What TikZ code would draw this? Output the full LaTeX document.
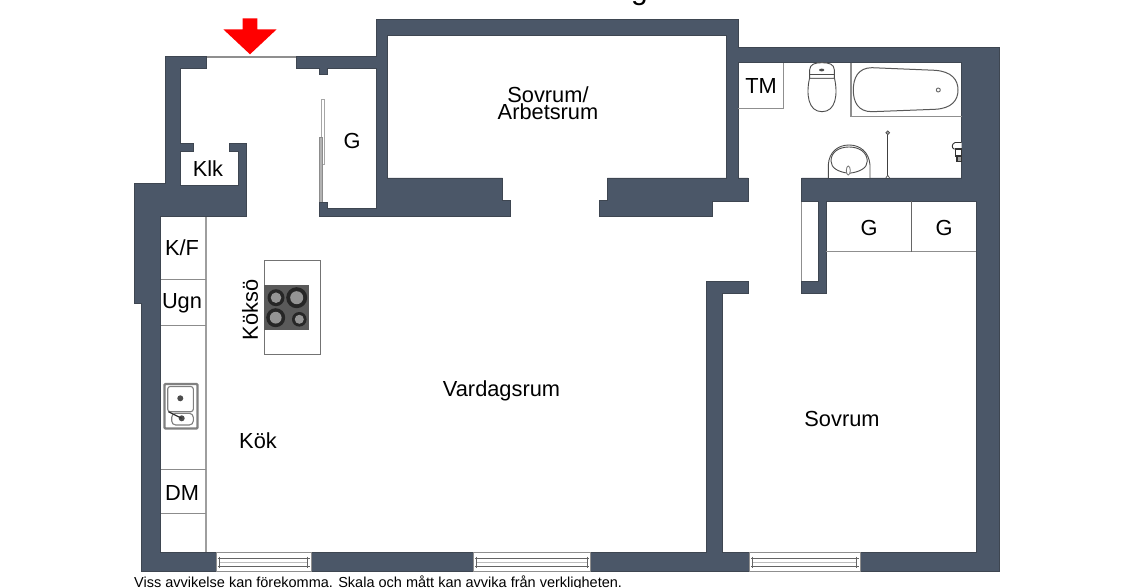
\documentclass[tikz,border=0pt]{standalone}
\usepackage{fontspec}
\setmainfont{Liberation Sans}
\definecolor{wallc}{HTML}{4B5768}
\definecolor{walle}{HTML}{3E4651}
\definecolor{fixg}{HTML}{8F8F8F}
\definecolor{hobc}{HTML}{5A5A5A}
\newcommand{\winfix}[2]{%
  \draw[fixg,line width=1,fill=white] (#1,552.7) rectangle (#2,571.8);
  \draw[fixg!70!black,line width=.9] (#1+1.5,558.5) -- (#2-1.5,558.5) (#1+1.5,566) -- (#2-1.5,566);
  \draw[fixg!60,line width=.6] (#1+4,562.2) -- (#2-4,562.2);
  \draw[fixg!70!black,line width=.7] (#1+3.5,556.5) -- (#1+3.5,568) (#2-3.5,556.5) -- (#2-3.5,568);
}
\newcommand{\burner}[3]{%
  \fill[black!85] (#1,#2) circle (#3);
  \fill[black!42] (#1,#2) circle (#3*.62);
}
\tikzset{
  wall/.style={fill=wallc,draw=walle,line width=.7,line join=miter},
  fixline/.style={draw=fixg,line width=1},
  kitline/.style={draw=black!45,line width=.9},
  sanit/.style={draw=black!70,line width=.9,fill=white},
  lab/.style={font=\fontsize{21.8}{21.8}\selectfont,inner sep=0pt,text=black}
}
\begin{document}
\begin{tikzpicture}[x=1pt,y=-1pt]
\useasboundingbox (0,0) rectangle (1130,588);
\fill[white] (0,0) rectangle (1130,588);
% cropped heading
\node[anchor=base east,inner sep=0pt,font=\fontsize{30}{30}\selectfont,text=black] (heading) at (648,-0.3) {Planlösning};
% fixtures under walls
\draw[fixg,line width=1.4] (206,56.9) -- (296,56.9);
\draw[fixline,line width=1.4] (801.7,201) -- (801.7,281.7);
\draw[black!35,fill=white,line width=.8] (321,99.3) rectangle (324.3,164);
\draw[black!45,fill=black!30,line width=.6] (318.9,137.7) rectangle (322.5,203);
% kitchen units
\draw[draw=black!38,line width=1.8] (206,216.7) -- (206,552.7);
\draw[kitline] (160.7,279.7) -- (206,279.7) (160.7,325) -- (206,325) (160.7,469) -- (206,469) (160.7,513.7) -- (206,513.7);
% walls
\draw[wall] (165.7,56.7) -- (206,56.7) -- (206,68.3) -- (180.7,68.3) -- (180.7,143.3) -- (193.3,143.3) -- (193.3,151) -- (180.7,151) -- (180.7,185.7) -- (238.3,185.7) -- (238.3,151) -- (229.3,151) -- (229.3,143.3) -- (246.7,143.3) -- (246.7,216.7) -- (160.7,216.7) -- (160.7,552.7) -- (216,552.7) -- (216,571.8) -- (141.7,571.8) -- (141.7,303.3) -- (134,303.3) -- (134,183.3) -- (165.7,183.3) -- cycle;
\draw[wall] (296,56.7) -- (376.7,56.7) -- (376.7,19.3) -- (738,19.3) -- (738,47.7) -- (999.3,47.7) -- (999.3,571.8) -- (860,571.8) -- (860,552.7) -- (976,552.7) -- (976,201) -- (826,201) -- (826,293) -- (801.7,293) -- (801.7,281.7) -- (818.7,281.7) -- (818.7,201) -- (801.7,201) -- (801.7,178) -- (961.7,178) -- (961.7,62.7) -- (738,62.7) -- (738,178) -- (748,178) -- (748,201) -- (712.7,201) -- (712.7,216.7) -- (599,216.7) -- (599,200.7) -- (607.3,200.7) -- (607.3,178) -- (726.7,178) -- (726.7,35) -- (387.7,35) -- (387.7,178) -- (502.7,178) -- (502.7,200.7) -- (510.7,200.7) -- (510.7,216.7) -- (319.3,216.7) -- (319.3,202.7) -- (327.3,202.7) -- (327.3,208.3) -- (376.7,208.3) -- (376.7,68.3) -- (327.3,68.3) -- (327.3,74) -- (319.3,74) -- (319.3,68.3) -- (296,68.3) -- cycle;
\draw[wall] (311,552.7) rectangle (473.3,571.8);
\draw[wall] (590.7,552.7) -- (706.7,552.7) -- (706.7,281) -- (748.3,281) -- (748.3,293.3) -- (722.7,293.3) -- (722.7,552.7) -- (749.3,552.7) -- (749.3,571.8) -- (590.7,571.8) -- cycle;
% windows
\winfix{216}{311}
\winfix{473.3}{590.7}
\winfix{749.3}{860}
% wardrobe and bathroom partitions
\draw[fixline] (826,251.7) -- (976,251.7);
\draw[draw=black!60,line width=.8] (911.7,201) -- (911.7,251.7);
\draw[fixline] (738,108.3) -- (783.3,108.3) -- (783.3,62.7);
\draw[fixline,line width=1.2] (851,62.7) -- (851,116.7) -- (961.7,116.7);
% tub
\draw[draw=black!65,line width=1,fill=white] (872,67.7) .. controls (858,67.7) and (853.3,78) .. (853.3,90) .. controls (853.3,102) and (858,111.7) .. (872,111.7) -- (935,109.3) .. controls (952,108.5) and (958,100) .. (958,90) .. controls (958,80) and (952,71.5) .. (935,70.3) -- cycle;
\draw[black!60,line width=.9] (938.3,90) circle (2);
% toilet
\draw[sanit] (809.5,78.3) .. controls (806,94) and (808,111.7) .. (822,111.7) .. controls (836,111.7) and (838,94) .. (834.5,78.3) -- cycle;
\draw[sanit] (809.6,78.3) -- (809.6,70) .. controls (810,64) and (815,62.7) .. (822,62.7) .. controls (829,62.7) and (834,64) .. (834.4,70) -- (834.4,78.3) -- cycle;
\draw[black!70,line width=.9] (809.6,74.3) -- (834.4,74.3);
\fill[black!70] (821.7,70) ellipse (2.6 and 1.4);
% basin
\draw[sanit] (828.3,178) -- (828.3,165) .. controls (829,152) and (838,145) .. (849,145) .. controls (860,145) and (869,152) .. (870,165) -- (870,178);
\draw[black!70,line width=.9] (831,161) .. controls (831,152) and (839,147) .. (849,147) .. controls (859,147) and (867,152) .. (867.3,161) .. controls (867.3,168) and (860,172) .. (849,173.3) .. controls (838,172) and (831,168) .. (831,161) -- cycle;
\draw[black!55,line width=.8,fill=white] (848.3,170.5) ellipse (2 and 4.5);
% shower rod
\draw[black!75,line width=.9] (887.7,134.5) -- (887.7,178);
\draw[black!70,fill=black!35,line width=.7] (887.7,132.7) circle (1.9);
\draw[black!70,fill=white,line width=.7] (885.9,178) -- (887.7,175.3) -- (889.5,178);
% wall accessory
\draw[black!80,line width=.9,fill=white] (961.7,142.5) -- (955,142.5) .. controls (951.5,144) and (951.5,148) .. (954,149) -- (961.7,149);
\draw[black!80,line width=1.1,fill=white] (955.5,149) rectangle (961.7,156);
\draw[black!80,line width=1.1,fill=black!35] (957,156) rectangle (961.7,161.5);
% island and hob
\draw[draw=black!55,line width=.9,fill=white] (264.3,260) rectangle (320.3,354.3);
\fill[hobc] (264.3,284.7) rectangle (309.3,329.7);
\burner{276}{297.7}{8.5}
\burner{296.7}{297.7}{10.5}
\burner{275.7}{317.7}{9.5}
\burner{299.3}{319.3}{7.3}
% sink
\draw[black!50,line width=2.2,fill=white,rounded corners=1] (164.5,384) rectangle (197.5,428.5);
\draw[black!50,line width=1.1,rounded corners=2.5] (167.7,386.5) rectangle (193.3,411.7);
\draw[black!50,line width=1.1,rounded corners=4] (171.7,413.3) rectangle (193.3,425);
\fill[black!70] (180.3,398.3) circle (3);
\fill[black!70] (181.7,418.3) circle (3);
\draw[black!80,line width=1.2] (168.3,411.7) -- (181.7,418.3);
% red arrow
\fill[red] (242.7,18.3) -- (257.3,18.3) -- (257.3,29.3) -- (276.7,29.3) -- (250,54.3) -- (223.3,29.3) -- (242.7,29.3) -- cycle;
% labels
\node[lab] (klk) at (208,168.5) {Klk};
\node[lab] (gentry) at (352,140.5) {G};
\node[lab,align=center] (arb) at (548,103) {Sovrum/\\[-5pt]Arbetsrum};
\node[lab] (tm) at (761,86) {TM};
\node[lab] (g1) at (869,228) {G};
\node[lab] (g2) at (944,228) {G};
\node[lab] (kf) at (182,248) {K/F};
\node[lab] (ugn) at (182,303) {Ugn};
\node[lab,rotate=90] (kokso) at (250,310) {Köksö};
\node[lab] (vardag) at (501.5,390.5) {Vardagsrum};
\node[lab] (kok) at (258,440.5) {Kök};
\node[lab] (dm) at (182,492.5) {DM};
\node[lab] (sovrum) at (842,418.5) {Sovrum};
\node[anchor=base west,inner sep=0pt,font=\fontsize{14.5}{14.5}\selectfont,text=black] (note) at (134,587.5) {Viss avvikelse kan förekomma. Skala och mått kan avvika från verkligheten.};
\end{tikzpicture}
\end{document}
